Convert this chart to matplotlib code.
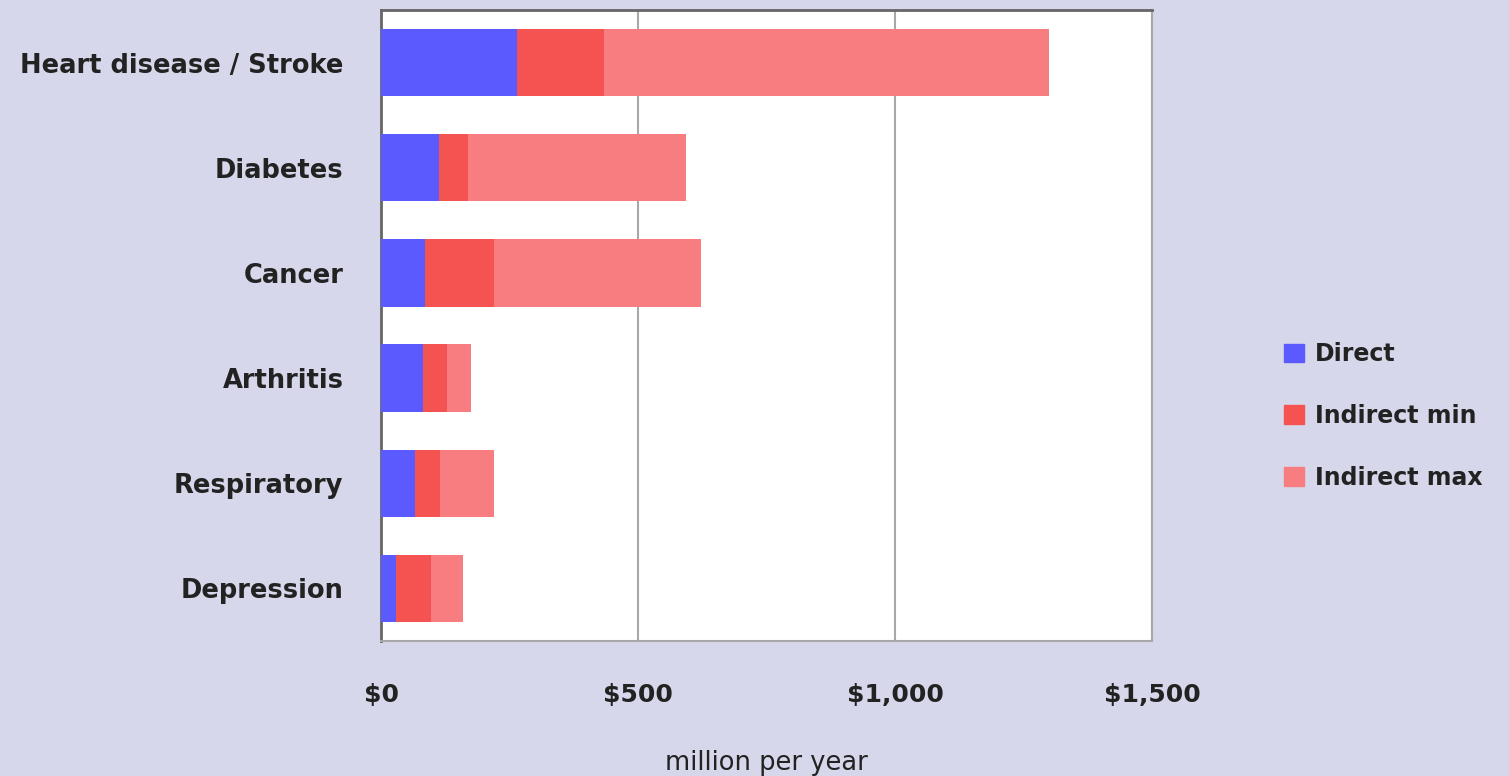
import matplotlib
matplotlib.use("Agg")
import matplotlib.pyplot as plt
from matplotlib.patches import Patch
import numpy as np

categories = ["Heart disease / Stroke", "Diabetes", "Cancer", "Arthritis", "Respiratory", "Depression"]
direct = [265, 112, 86, 81, 67, 29]
indirect_min_seg = [168, 57, 133, 47, 47, 68]
indirect_max_seg = [867, 424, 404, 48, 105, 63]
xticks = [0, 500, 1000, 1500]
xtick_labels = ["$0", "$500", "$1,000", "$1,500"]

bg = "#D6D7EA"
c_direct = "#5A5AFF"
c_min = "#F55252"
c_max = "#F77D80"

fig = plt.figure(figsize=(15.09, 7.76), dpi=100, facecolor=bg)
ax = fig.add_axes([381/1509, 1-641/776, (1152-381)/1509, (641-10)/776])
ax.set_facecolor("white")

y = np.arange(len(categories))
h = 0.64
d = np.array(direct)
mn = np.array(indirect_min_seg)
mx = np.array(indirect_max_seg)
ax.barh(y, d, height=h, color=c_direct, label="Direct", zorder=3)
ax.barh(y, mn, left=d, height=h, color=c_min, label="Indirect min", zorder=3)
ax.barh(y, mx, left=d+mn, height=h, color=c_max, label="Indirect max", zorder=3)

ax.set_ylim(len(categories)-0.5, -0.5)
ax.set_xlim(0, 1500)
ax.set_yticks(y)
ax.set_yticklabels(categories, fontsize=18.5, fontweight="semibold", color="#222222")
ax.set_xticks(xticks)
ax.set_xticklabels(xtick_labels, fontsize=18, fontweight="semibold", color="#222222")
ax.tick_params(axis="both", length=0)
ax.tick_params(axis="x", pad=30)
ax.tick_params(axis="y", pad=27)
ax.grid(axis="x", color="#A8A8A8", linewidth=1.5, zorder=1)
for s in ["top", "left"]:
    ax.spines[s].set_color("#666666")
    ax.spines[s].set_linewidth(2)
for s in ["bottom", "right"]:
    ax.spines[s].set_color("#A8A8A8")
    ax.spines[s].set_linewidth(1.5)

ax.set_xlabel("million per year", fontsize=18.5, color="#222222", labelpad=31)

handles = [Patch(color=c_direct), Patch(color=c_min), Patch(color=c_max)]
leg = fig.legend(handles, ["Direct", "Indirect min", "Indirect max"],
                 loc="center left", bbox_to_anchor=(1263/1509, 1-416/776),
                 frameon=False, handlelength=0.85, handleheight=0.85,
                 handletextpad=0.45, labelspacing=1.6,
                 prop={"weight": "semibold", "size": 17})
for t in leg.get_texts():
    t.set_color("#222222")

fig.savefig("out.png", dpi=100, facecolor=bg)
